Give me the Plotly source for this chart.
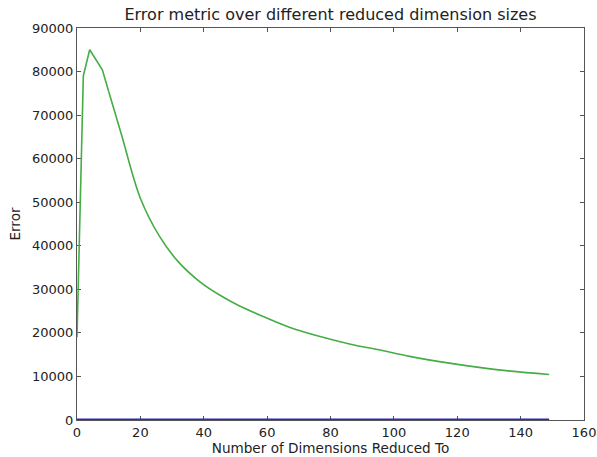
import plotly.graph_objects as go

# Green series: sharp rise/peak part, then smooth decay part
dims_rise = [0, 2, 4, 8, 10]
error_rise = [19000, 79000, 85000, 80400, 75400]

dims_decay = [10, 14, 20, 26, 32, 39, 45, 51, 58, 67, 77, 86, 96, 105, 118, 133, 149]
error_decay = [75400, 65600, 50900, 42200, 36300, 31600, 28700, 26300, 24000, 21300, 19100,
               17450, 16000, 14600, 13000, 11500, 10450]

dims_blue = [0, 149]
error_blue = [0, 0]

x_ticks = [0, 20, 40, 60, 80, 100, 120, 140, 160]
y_ticks = [0, 10000, 20000, 30000, 40000, 50000, 60000, 70000, 80000, 90000]

GREEN = "#45ad45"

fig = go.Figure()
fig.add_trace(go.Scatter(x=dims_blue, y=error_blue, mode="lines",
                         line=dict(color="#2a2ab8", width=3), showlegend=False))
fig.add_trace(go.Scatter(x=dims_rise, y=error_rise, mode="lines",
                         line=dict(color=GREEN, width=1.6), showlegend=False))
fig.add_trace(go.Scatter(x=dims_decay, y=error_decay, mode="lines",
                         line=dict(color=GREEN, width=1.6, shape="spline", smoothing=1.0),
                         showlegend=False))

axis_common = dict(showline=True, linecolor="#555555", linewidth=1, mirror="ticks",
                   ticks="inside", ticklen=4, tickcolor="#555555", showgrid=False,
                   zeroline=False, layer="below traces", automargin=False,
                   tickfont=dict(family="DejaVu Sans", size=13, color="#222222"))

fig.update_layout(
    width=597, height=457,
    margin=dict(l=77, r=13, t=28, b=37),
    paper_bgcolor="white", plot_bgcolor="white",
    title=dict(text="Error metric over different reduced dimension sizes",
               x=(77 + 584) / 2 / 597, xanchor="center", y=1 - 14 / 457, yanchor="middle",
               font=dict(family="DejaVu Sans", size=16, color="#222222")),
    xaxis=dict(range=[0, 160], tickvals=x_ticks, ticktext=[str(v) for v in x_ticks],
               title=dict(text="Number of Dimensions Reduced To", standoff=4,
                          font=dict(family="DejaVu Sans", size=13.6, color="#222222")),
               **axis_common),
    yaxis=dict(range=[0, 90000], tickvals=y_ticks, ticktext=[str(v) for v in y_ticks],
               title=dict(text="Error", standoff=8,
                          font=dict(family="DejaVu Sans", size=13.6, color="#222222")),
               **axis_common),
)

fig.write_html("out.html", config={"displayModeBar": False},
               post_script="document.body.style.margin='0px';document.body.style.overflow='hidden';")
